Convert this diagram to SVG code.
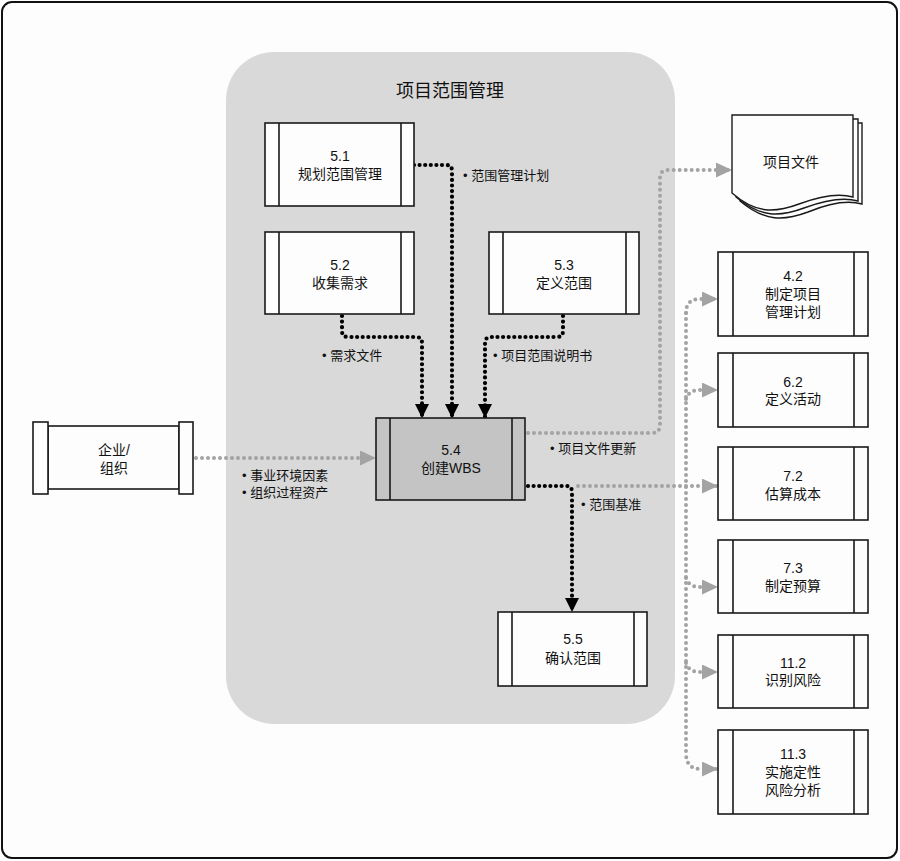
<svg xmlns="http://www.w3.org/2000/svg" width="900" height="861" viewBox="0 0 900 861">
<defs>
<style>
.frame{fill:#fdfdfd;stroke:#111;stroke-width:2}
.region{fill:#d9d9d9}
.box{fill:#fdfdfd;stroke:#1a1a1a;stroke-width:1.6}
.boxg{fill:#c4c4c4;stroke:#1a1a1a;stroke-width:1.6}
.bar{stroke:#1a1a1a;stroke-width:1.6}
.t{font-family:"Liberation Sans","Noto Sans CJK SC",sans-serif;font-size:14px;fill:#111;text-anchor:middle}
.lbl{font-family:"Liberation Sans","Noto Sans CJK SC",sans-serif;font-size:13px;fill:#111}
.title{font-family:"Liberation Sans","Noto Sans CJK SC",sans-serif;font-size:18px;fill:#111;text-anchor:middle}
.blk{fill:none;stroke:#000;stroke-width:4.2;stroke-linecap:round;stroke-dasharray:0 5.6}
.gry{fill:none;stroke:#a3a3a3;stroke-width:4;stroke-linecap:round;stroke-dasharray:0 6}
.doc{fill:#fdfdfd;stroke:#1a1a1a;stroke-width:1.4}
</style>
<marker id="ab" viewBox="0 0 14 14" refX="14" refY="7" markerWidth="15" markerHeight="14" markerUnits="userSpaceOnUse" orient="auto"><path d="M0,0 L14,7 L0,14 z" fill="#000"/></marker>
<marker id="ag" viewBox="0 0 16 15" refX="16" refY="7.5" markerWidth="16" markerHeight="15" markerUnits="userSpaceOnUse" orient="auto"><path d="M0,0 L16,7.5 L0,15 z" fill="#a3a3a3"/></marker>
</defs>
<rect class="frame" x="2" y="2" width="895" height="856" rx="10"/>
<rect class="region" x="226" y="52" width="449" height="672" rx="48"/>
<text class="title" x="450" y="97">项目范围管理</text>

<g id="connectors">
<path class="blk" d="M414,165 H446 Q452,165 452,171 V418" marker-end="url(#ab)"/>
<path class="blk" d="M342,316 V331 Q342,337 348,337 H416 Q422,337 422,343 V418" marker-end="url(#ab)"/>
<path class="blk" d="M563,316 V331 Q563,337 557,337 H491 Q485,337 485,343 V418" marker-end="url(#ab)"/>
<path class="gry" d="M196,458 H376" marker-end="url(#ag)"/>
<path class="gry" d="M528,433 H652 Q660,433 660,425 V178 Q660,170 668,170 H732" marker-end="url(#ag)"/>
<path class="gry" d="M578,486 H718" marker-end="url(#ag)"/>
<path class="blk" d="M528,486 H566 Q572,486 572,492 V612" marker-end="url(#ab)"/>
<path class="gry" d="M686,313 V753 Q686,769 700,769 H718" marker-end="url(#ag)"/>
<path class="gry" d="M686,313 Q686,299 700,299 H718" marker-end="url(#ag)"/>
<path class="gry" d="M686,399 Q689,390 700,390 H718" marker-end="url(#ag)"/>
<path class="gry" d="M686,578 Q689,587 700,587 H718" marker-end="url(#ag)"/>
<path class="gry" d="M686,663 Q689,672 700,672 H718" marker-end="url(#ag)"/>
<text class="lbl" x="463" y="180">• 范围管理计划</text>
<text class="lbl" x="322" y="360">• 需求文件</text>
<text class="lbl" x="493" y="360">• 项目范围说明书</text>
<text class="lbl" x="242" y="480">• 事业环境因素</text>
<text class="lbl" x="242" y="497">• 组织过程资产</text>
<text class="lbl" x="550" y="453">• 项目文件更新</text>
<text class="lbl" x="581" y="509">• 范围基准</text>
</g>

<g id="n51">
<rect class="box" x="265" y="123" width="149" height="83"/>
<path class="bar" d="M279,123 V206 M401,123 V206"/>
<text class="t" x="340" y="161">5.1</text>
<text class="t" x="340" y="179">规划范围管理</text>
</g>
<g id="n52">
<rect class="box" x="265" y="232" width="149" height="82"/>
<path class="bar" d="M279,232 V314 M401,232 V314"/>
<text class="t" x="340" y="270">5.2</text>
<text class="t" x="340" y="288">收集需求</text>
</g>
<g id="n53">
<rect class="box" x="489" y="232" width="150" height="82"/>
<path class="bar" d="M503,232 V314 M626,232 V314"/>
<text class="t" x="564" y="270">5.3</text>
<text class="t" x="564" y="288">定义范围</text>
</g>
<g id="n54">
<rect class="boxg" x="376" y="418" width="149" height="82"/>
<path class="bar" d="M390,418 V500 M512,418 V500"/>
<text class="t" x="451" y="455">5.4</text>
<text class="t" x="451" y="473">创建WBS</text>
</g>
<g id="n55">
<rect class="box" x="498" y="612" width="149" height="74"/>
<path class="bar" d="M512,612 V686 M634,612 V686"/>
<text class="t" x="573" y="644">5.5</text>
<text class="t" x="573" y="663">确认范围</text>
</g>
<g id="enterprise">
<rect class="box" x="48" y="426" width="131" height="63"/>
<rect class="box" x="33" y="422" width="15" height="72"/>
<rect class="box" x="179" y="422" width="14" height="72"/>
<text class="t" x="114" y="455">企业/</text>
<text class="t" x="114" y="473">组织</text>
</g>
<g id="projdocs">
<path class="doc" d="M740,123 H862 V204 C848,200 832,202 808,212 C784,221 765,222 740,201 Z"/>
<path class="doc" d="M736,119 H858 V201 C844,197 828,199 804,208 C780,217 761,218 736,197 Z"/>
<path class="doc" d="M732,115 H853 V197 C839,193 823,195 799,204 C775,213 756,214 732,193 Z"/>
<text class="t" x="791" y="167">项目文件</text>
</g>
<g id="n42">
<rect class="box" x="718" y="252" width="150" height="84"/>
<path class="bar" d="M733,252 V336 M854,252 V336"/>
<text class="t" x="793" y="281">4.2</text>
<text class="t" x="793" y="299">制定项目</text>
<text class="t" x="793" y="317">管理计划</text>
</g>
<g id="n62">
<rect class="box" x="718" y="353" width="150" height="74"/>
<path class="bar" d="M733,353 V427 M854,353 V427"/>
<text class="t" x="793" y="387">6.2</text>
<text class="t" x="793" y="404">定义活动</text>
</g>
<g id="n72">
<rect class="box" x="718" y="447" width="150" height="73"/>
<path class="bar" d="M733,447 V520 M854,447 V520"/>
<text class="t" x="793" y="481">7.2</text>
<text class="t" x="793" y="499">估算成本</text>
</g>
<g id="n73">
<rect class="box" x="718" y="540" width="150" height="73"/>
<path class="bar" d="M733,540 V613 M854,540 V613"/>
<text class="t" x="793" y="573">7.3</text>
<text class="t" x="793" y="591">制定预算</text>
</g>
<g id="n112">
<rect class="box" x="718" y="635" width="150" height="73"/>
<path class="bar" d="M733,635 V708 M854,635 V708"/>
<text class="t" x="793" y="668">11.2</text>
<text class="t" x="793" y="685">识别风险</text>
</g>
<g id="n113">
<rect class="box" x="718" y="730" width="150" height="84"/>
<path class="bar" d="M733,730 V814 M854,730 V814"/>
<text class="t" x="793" y="759">11.3</text>
<text class="t" x="793" y="777">实施定性</text>
<text class="t" x="793" y="795">风险分析</text>
</g>
</svg>
